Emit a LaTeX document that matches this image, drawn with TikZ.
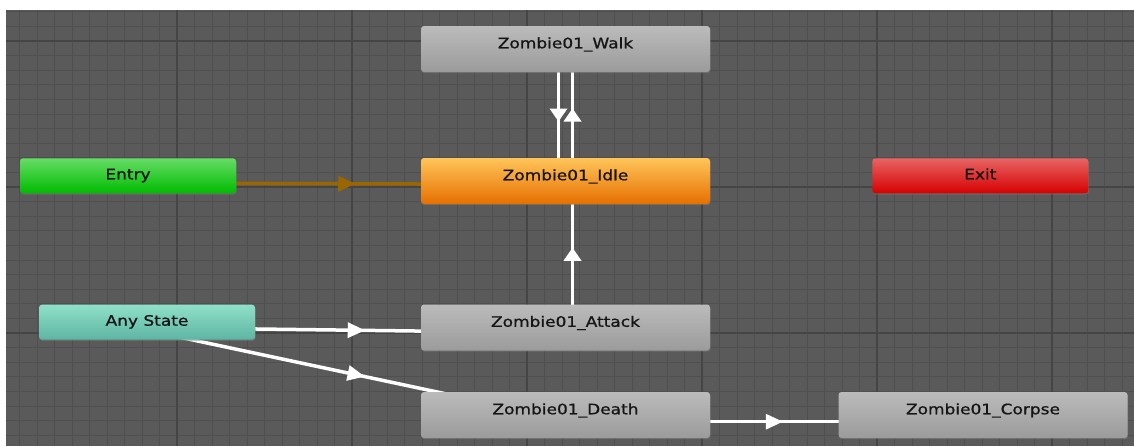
\documentclass[tikz,border=0pt]{standalone}
\usepackage{fontspec}
\newfontfamily\statefont[FakeStretch=1.18,FakeBold=0.9]{DejaVu Sans}
\usetikzlibrary{decorations.markings,shadows}

\definecolor{canvasbg}{HTML}{5A5A5A}
\definecolor{minorgrid}{HTML}{4F4F4F}
\definecolor{majorgrid}{HTML}{454545}
\definecolor{statetext}{HTML}{151515}
\definecolor{grayTop}{HTML}{BBBBBB}
\definecolor{grayBot}{HTML}{9B9B9B}
\definecolor{idleTop}{HTML}{FFC55A}
\definecolor{idleBot}{HTML}{E66F00}
\definecolor{entryTop}{HTML}{66DD66}
\definecolor{entryBot}{HTML}{00BB00}
\definecolor{exitTop}{HTML}{E86464}
\definecolor{exitBot}{HTML}{D50000}
\definecolor{anyTop}{HTML}{8FE0C8}
\definecolor{anyBot}{HTML}{5DB5A3}
\definecolor{entryline}{HTML}{9B6500}

\pgfdeclarelayer{gridlayer}
\pgfdeclarelayer{edgelayer}
\pgfsetlayers{gridlayer,edgelayer,main}

\begin{document}
\begin{tikzpicture}[x=0.5pt,y=-0.5pt,
  minorline/.style={draw=minorgrid, line width=0.5pt},
  majorline/.style={draw=majorgrid, line width=0.6pt},
  state/.style={rectangle, rounded corners=1.5pt, inner sep=0pt, outer sep=0pt,
    font=\statefont\fontsize{7.2pt}{8pt}\selectfont, text=statetext,
    drop shadow={shadow xshift=0.3pt, shadow yshift=-0.6pt, opacity=0.45}},
  bigstate/.style={state, minimum width=144.5pt, minimum height=23pt,
    text height=5.5pt, text depth=6.25pt},
  smallstate/.style={state, minimum width=108pt, minimum height=17.5pt,
    text height=5.5pt, text depth=2pt},
  graystate/.style={bigstate, top color=grayTop, bottom color=grayBot},
  idlestate/.style={bigstate, top color=idleTop, bottom color=idleBot},
  entrystate/.style={smallstate, top color=entryTop, bottom color=entryBot},
  exitstate/.style={smallstate, top color=exitTop, bottom color=exitBot},
  anystate/.style={smallstate, top color=anyTop, bottom color=anyBot},
  midtip/.style n args={3}{postaction={decorate, decoration={markings,
    mark=at position 0.5 with {\fill[#1] (-#2,-#3) -- (#2,0pt) -- (-#2,#3) -- cycle;}}}},
  whiteedge/.style={draw=white, line width=1.75pt},
  entryedge/.style={draw=entryline, line width=1.75pt},
  vtip/.style={midtip={white}{3.25pt}{4.5pt}},
  htip/.style={midtip={white}{4.25pt}{4pt}},
  entrytip/.style={midtip={entryline}{4.25pt}{4pt}}
]
\useasboundingbox (0,0) rectangle (1134,446);

% canvas and grid
\begin{pgfonlayer}{gridlayer}
  \fill[white] (0,0) rectangle (1134,446);
  \fill[canvasbg] (6,10) rectangle (1134,446);
  \begin{scope}
    \clip (6,10) rectangle (1134,446);
    \foreach \k in {0,...,64} \draw[minorline] (2+17.5*\k,10) -- (2+17.5*\k,446);
    \foreach \k in {-2,...,27} \draw[minorline] (6,41+14.6*\k) -- (1134,41+14.6*\k);
    \foreach \m in {0,...,5} \draw[majorline] (177+175*\m,10) -- (177+175*\m,446);
    \foreach \m in {0,1,2} \draw[majorline] (6,41+146*\m) -- (1134,41+146*\m);
  \end{scope}
\end{pgfonlayer}

% states
\node[graystate] (walk) at (565.5,49) {Zombie01\_Walk};
\node[idlestate] (idle) at (565.5,181) {Zombie01\_Idle};
\node[graystate] (attack) at (565.5,327.5) {Zombie01\_Attack};
\node[graystate] (death) at (565.5,415) {Zombie01\_Death};
\node[graystate] (corpse) at (983,415) {Zombie01\_Corpse};
\node[entrystate] (entry) at (128,175.8) {Entry};
\node[exitstate] (exit) at (980.3,175.8) {Exit};
\node[anystate] (any) at (147,322.2) {Any State};

% transitions, drawn centre to centre beneath the states
\begin{pgfonlayer}{edgelayer}
  \draw[whiteedge, vtip] ([xshift=-3.5pt]walk.center) -- ([xshift=-3.5pt]idle.center);
  \draw[whiteedge, vtip] ([xshift=3.5pt]idle.center) -- ([xshift=3.5pt]walk.center);
  \draw[whiteedge, vtip] ([xshift=3.5pt]attack.center) -- ([xshift=3.5pt]idle.center);
  \draw[entryedge, entrytip] ([yshift=-3.6pt]entry.center) -- ([yshift=-1.75pt]idle.center);
  \draw[whiteedge, htip] ([yshift=-2.7pt]any.center) -- ([yshift=-2.7pt]attack.center);
  \draw[whiteedge, htip] ([yshift=-4pt]any.center) -- ([yshift=-2.15pt]death.center);
  \draw[whiteedge, htip] ([yshift=-3.35pt]death.center) -- ([yshift=-3.35pt]corpse.center);
\end{pgfonlayer}
\end{tikzpicture}
\end{document}
